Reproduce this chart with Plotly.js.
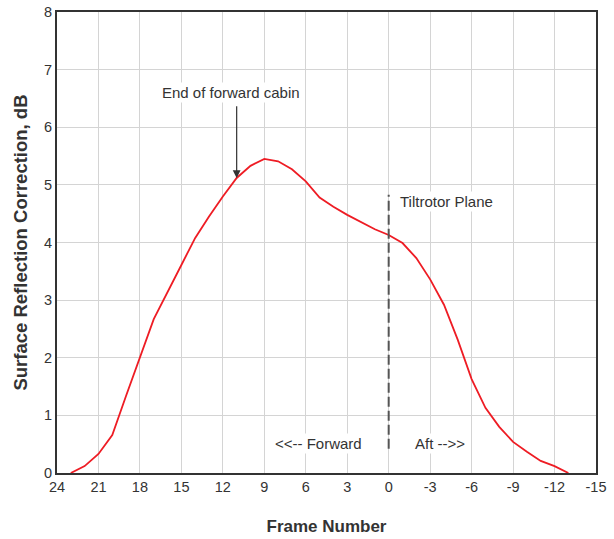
<!DOCTYPE html>
<html><head><meta charset="utf-8">
<script src="https://cdn.plot.ly/plotly-3.0.1.min.js"></script>
<style>body{margin:0;background:#fff}#chart{width:614px;height:539px}</style>
</head><body><div id="chart"></div>
<script>
const frameNumber = [23, 22, 21, 20, 19, 18, 17, 15, 14, 13, 12, 11, 10, 9, 8, 7, 6, 5, 4, 3, 2, 1, 0, -1, -2, -3, -4, -5, -6, -7, -8, -9, -10, -11, -12, -13];
const correctionDb = [0.0, 0.12, 0.33, 0.66, 1.34, 2.02, 2.67, 3.61, 4.08, 4.45, 4.8, 5.12, 5.33, 5.45, 5.41, 5.27, 5.06, 4.78, 4.62, 4.48, 4.36, 4.23, 4.13, 3.99, 3.73, 3.36, 2.92, 2.31, 1.63, 1.13, 0.80, 0.54, 0.37, 0.21, 0.12, 0.0];
const xTicks = [24, 21, 18, 15, 12, 9, 6, 3, 0, -3, -6, -9, -12, -15];
const planeLineX = [0, 0];
const planeLineY = [0.42, 4.83];

const font = {family: 'Liberation Sans, Arial, sans-serif', size: 14, color: '#333'};
const annFont = {family: 'Liberation Sans, Arial, sans-serif', size: 15, color: '#333'};
const data = [
  {x: frameNumber, y: correctionDb, mode: 'lines', line: {color: '#ee1c24', width: 1.8}, hoverinfo: 'skip'},
  {x: planeLineX, y: planeLineY, mode: 'lines', line: {color: '#555', width: 2, dash: '10px,4px'}, hoverinfo: 'skip'}
];
const layout = {
  width: 614, height: 539,
  margin: {l: 57, r: 18, t: 12, b: 66},
  showlegend: false,
  paper_bgcolor: '#fff', plot_bgcolor: '#fff',
  font: font,
  xaxis: {
    range: [24, -15], tickvals: xTicks, ticktext: xTicks.map(String),
    showgrid: true, gridcolor: '#d4d4d4', gridwidth: 1, zeroline: false,
    showline: true, linecolor: '#333', linewidth: 2, mirror: true,
    ticks: '', ticklen: 0, tickfont: {size: 14.5, color: '#333'},
    title: {text: '<b>Frame Number</b>', font: {size: 17, color: '#333'}, standoff: 26}
  },
  yaxis: {
    range: [0, 8], dtick: 1,
    showgrid: true, gridcolor: '#d4d4d4', gridwidth: 1, zeroline: false,
    showline: true, linecolor: '#333', linewidth: 2, mirror: true,
    ticks: '', tickfont: {size: 14.5, color: '#333'},
    title: {text: '<b>Surface Reflection Correction, dB</b>', font: {size: 18.5, color: '#333'}, standoff: 12}
  },
  annotations: [
    {x: 11, y: 5.12, ax: 11, ay: 6.39, xref: 'x', yref: 'y', axref: 'x', ayref: 'y',
     showarrow: true, arrowhead: 2, arrowsize: 1.3, arrowwidth: 1.2, arrowcolor: '#333', text: ''},
    {x: 11.4, y: 6.6, xref: 'x', yref: 'y', text: 'End of forward cabin', showarrow: false,
     font: annFont, bgcolor: '#fff'},
    {x: -0.7, y: 4.72, xref: 'x', yref: 'y', xanchor: 'left', text: 'Tiltrotor Plane', showarrow: false,
     font: annFont, bgcolor: '#fff'},
    {x: 5.1, y: 0.52, xref: 'x', yref: 'y', text: '&lt;&lt;-- Forward', showarrow: false,
     font: annFont, bgcolor: '#fff'},
    {x: -3.7, y: 0.52, xref: 'x', yref: 'y', text: 'Aft --&gt;&gt;', showarrow: false,
     font: annFont, bgcolor: '#fff'}
  ]
};
Plotly.newPlot('chart', data, layout, {staticPlot: true});
</script></body></html>
